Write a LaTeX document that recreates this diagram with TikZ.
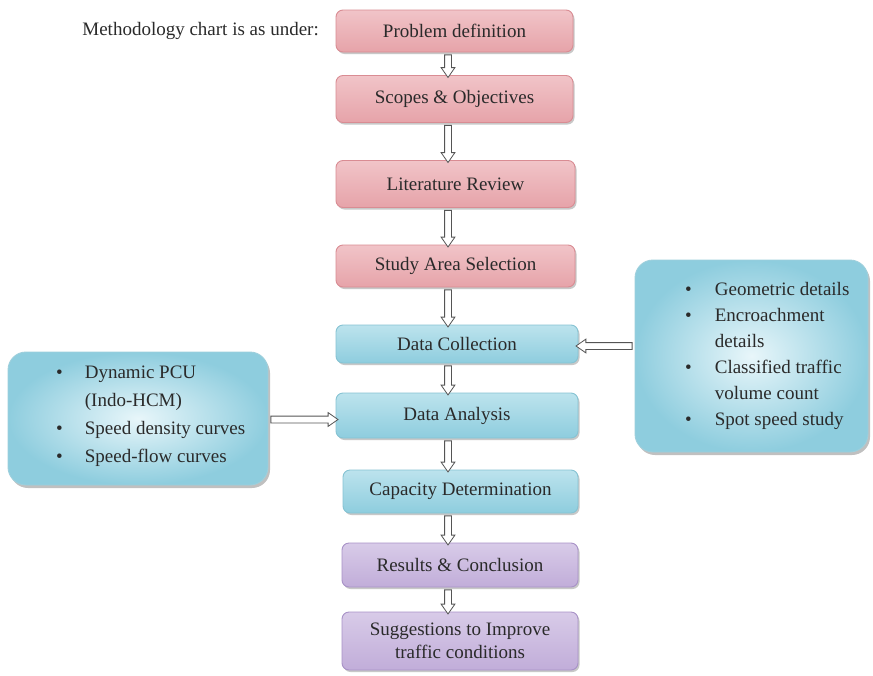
\documentclass[tikz,border=0pt]{standalone}
\usepackage{fontspec}
\setmainfont{Liberation Serif}
\usetikzlibrary{shapes.arrows,shadows,calc}
\definecolor{txt}{HTML}{2A2A2A}
\definecolor{pinkB}{HTML}{D98C93}
\definecolor{pinkT}{HTML}{F1C4C8}
\definecolor{pinkM}{HTML}{FAE9EA}
\definecolor{pinkL}{HTML}{E6A3A9}
\definecolor{blueB}{HTML}{86C3D3}
\definecolor{blueT}{HTML}{BCE3ED}
\definecolor{blueM}{HTML}{E8F6FA}
\definecolor{blueL}{HTML}{8ECDDE}
\definecolor{purB}{HTML}{A892C7}
\definecolor{purT}{HTML}{D8CBE8}
\definecolor{purM}{HTML}{F2EDF7}
\definecolor{purL}{HTML}{C1ADD9}
\definecolor{arr}{HTML}{555555}
\tikzset{
  box/.style={draw, rounded corners=7pt, line width=0.9pt, inner sep=0pt,
    text=txt, align=center, font=\fontsize{19}{23}\selectfont,
    drop shadow={shadow xshift=1.5pt, shadow yshift=-2pt, opacity=0.3, fill=black!70}},
  pinkbox/.style={box, draw=pinkB, top color=pinkT, middle color=pinkM, bottom color=pinkL},
  bluebox/.style={box, draw=blueB, top color=blueT, middle color=blueM, bottom color=blueL},
  purbox/.style={box, draw=purB, top color=purT, middle color=purM, bottom color=purL},
  sidebox/.style={draw=blueB!80, line width=0.9pt, rounded corners=18pt, inner sep=0pt,
    inner color=blueM, outer color=blueL,
    drop shadow={shadow xshift=2pt, shadow yshift=-3pt, opacity=0.35, fill=black!70}},
  sidetext/.style={anchor=west, text=txt, inner sep=0pt, align=left},
  harrow/.style={single arrow, draw=arr, fill=white, line width=0.8pt,
    minimum width=0pt, single arrow head extend=3.5pt, single arrow tip angle=70,
    inner xsep=0pt, inner ysep=3pt, outer sep=0pt}
}
\newcommand\vlink[2]{%
  \path let \p1=(#1.south), \p2=(#2.north), \p3=(ax) in
    node[harrow, rotate=-90, minimum height={\y1-\y2}] at (\x3,{(\y1+\y2)/2}) {};}
\begin{document}
\begin{tikzpicture}[x=1pt,y=-1pt]
\useasboundingbox[fill=white] (0,0) rectangle (873,675);
\coordinate (ax) at (448,0);

\node[anchor=east, text=txt, font=\fontsize{19}{23}\selectfont, inner sep=0pt] (title) at (319,31) {Methodology chart is as under:};

\node[pinkbox, minimum width=237, minimum height=42] (pd) at (454.5,31) {Problem definition};
\node[pinkbox, minimum width=237, minimum height=47] (so) at (454.5,99) {Scopes \& Objectives};
\node[pinkbox, minimum width=239, minimum height=47] (lr) at (455.5,184) {Literature Review};
\node[pinkbox, minimum width=239, minimum height=42] (sa) at (455.5,266) {Study Area Selection};
\node[bluebox, minimum width=242, minimum height=38] (dc) at (457,344) {Data Collection};
\node[bluebox, minimum width=242, minimum height=45] (da) at (457,415.5) {Data Analysis};
\node[bluebox, minimum width=235, minimum height=43] (cd) at (460.5,491.5) {Capacity Determination};
\node[purbox, minimum width=236, minimum height=44] (rc) at (460,565) {Results \& Conclusion};
\node[purbox, minimum width=236, minimum height=58] (sg) at (460,641) {Suggestions to Improve\\traffic conditions};

\node[sidebox, minimum width=260, minimum height=133] (lb) at (138,418.5) {};
\node[sidetext] (lt) at (56,415) {\fontsize{19}{28}\selectfont
  \begin{tabular}{@{}l@{\hspace{22pt}}l@{}}
  • & Dynamic PCU\\
    & (Indo-HCM)\\
  • & Speed density curves\\
  • & Speed-flow curves
  \end{tabular}};

\node[sidebox, minimum width=233, minimum height=192] (rb) at (751.5,356) {};
\node[sidetext] (rt) at (685,355) {\fontsize{19}{26}\selectfont
  \begin{tabular}{@{}l@{\hspace{23pt}}l@{}}
  • & Geometric details\\
  • & Encroachment\\
    & details\\
  • & Classified traffic\\
    & volume count\\
  • & Spot speed study
  \end{tabular}};

\vlink{pd}{so}
\vlink{so}{lr}
\vlink{lr}{sa}
\vlink{sa}{dc}
\vlink{dc}{da}
\vlink{da}{cd}
\vlink{cd}{rc}
\vlink{rc}{sg}

\path let \p1=(lb.east), \p2=(da.west) in
  node[harrow, minimum height={\x2-\x1}] at ({(\x1+\x2)/2},{\y2-4pt}) {};
\path let \p1=(rb.west), \p2=(dc.east) in
  node[harrow, rotate=180, minimum height={\x1-\x2}] at ({(\x1+\x2)/2},{\y2-2pt}) {};
\end{tikzpicture}
\end{document}
